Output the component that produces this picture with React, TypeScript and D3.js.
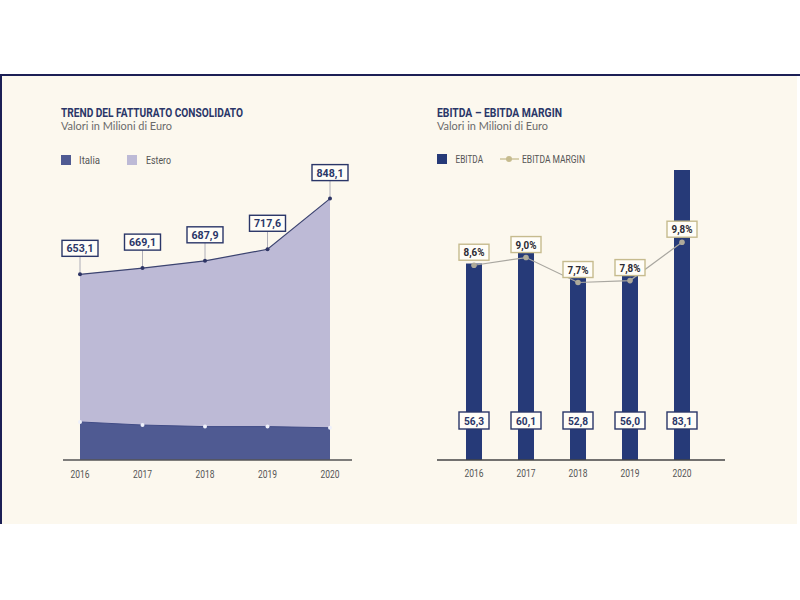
import React from 'react';
import * as d3 from 'd3';

const years = ['2016', '2017', '2018', '2019', '2020'];
const totale = [653.1, 669.1, 687.9, 717.6, 848.1];
const totaleLabels = ['653,1', '669,1', '687,9', '717,6', '848,1'];
const italia = [273, 265, 261, 261, 258];
const ebitda = [56.3, 60.1, 52.8, 56.0, 83.1];
const ebitdaLabels = ['56,3', '60,1', '52,8', '56,0', '83,1'];
const margin = [8.6, 9.0, 7.7, 7.8, 9.8];
const marginLabels = ['8,6%', '9,0%', '7,7%', '7,8%', '9,8%'];

const BG = '#fcf8ee';
const NAVY = '#2a3668';
const BAR = '#263a78';
const ITALIA = '#4f5a92';
const ESTERO = '#bdbad6';
const TAN = '#c6bb8e';
const COND = "'Roboto', 'DejaVu Sans', sans-serif";
const SANS = "'Lato', 'Open Sans', sans-serif";

type TProps = {
  x: number; y: number; w: number; size: number; children: React.ReactNode;
  anchor?: 'start' | 'middle' | 'end'; bold?: boolean; fill?: string; family?: string;
};
function T({ x, y, w, size, children, anchor = 'start', bold = false, fill = '#555', family = COND }: TProps) {
  return (
    <text x={x} y={y} textAnchor={anchor} fontFamily={family} fontWeight={bold ? 'bold' : 'normal'}
      fontSize={size} fill={fill} textLength={w} lengthAdjust="spacingAndGlyphs">
      {children}
    </text>
  );
}

export default function App() {
  const xL = d3.scalePoint<string>().domain(years).range([80, 330]);
  const yL = d3.scaleLinear().domain([175, 848.1]).range([460, 198.6]);
  const base = 460;

  const area = d3.area<number>().x((_, i) => xL(years[i])!).y0(base).y1((d) => yL(d));
  const line = d3.line<number>().x((_, i) => xL(years[i])!).y((d) => yL(d));

  const xR = d3.scalePoint<string>().domain(years).range([474, 682]);
  const yR = d3.scaleLinear().domain([0, 83.1]).range([460, 170]);
  const yM = d3.scaleLinear().domain([7.7, 9.8]).range([282.5, 242.2]);
  const mLine = d3.line<number>().x((_, i) => xR(years[i])!).y((d) => yM(d));
  const barW = 16;

  return (
    <svg width={800} height={600} style={{ position: 'absolute', left: 0, top: 0 }}>
      <rect x={0} y={0} width={800} height={600} fill="#ffffff" />
      <rect x={0} y={75} width={797} height={449} fill={BG} />
      <line x1={0} x2={800} y1={75} y2={75} stroke="#1c1f55" strokeWidth={2} />
      <line x1={1} x2={1} y1={75} y2={524} stroke="#1c1f55" strokeWidth={2} />

      {/* LEFT CHART */}
      <T x={61} y={116.5} w={182} size={13.5} bold fill={NAVY}>TREND DEL FATTURATO CONSOLIDATO</T>
      <T x={61} y={130} w={111} size={10.5} fill="#6b6b6b" family={SANS}>Valori in Milioni di Euro</T>
      <rect x={61} y={155} width={10} height={10} fill={ITALIA} />
      <T x={79} y={163.5} w={21} size={10.5}>Italia</T>
      <rect x={127} y={155} width={10} height={10} fill={ESTERO} />
      <T x={146} y={163.5} w={25} size={10.5}>Estero</T>

      <path d={area(totale)!} fill={ESTERO} />
      <path d={line(totale)!} fill="none" stroke="#3c4470" strokeWidth={1.2} />
      <path d={area(italia)!} fill={ITALIA} />
      <path d={line(italia)!} fill="none" stroke="#414c86" strokeWidth={1} />
      {italia.map((d, i) => (
        <circle key={'it' + i} cx={xL(years[i])!} cy={yL(d)} r={2} fill="#eef0fa" />
      ))}
      {totale.map((d, i) => {
        const cx = xL(years[i])!;
        const cy = yL(d);
        const bw = 36, bh = 16;
        const by = cy - 18 - bh;
        return (
          <g key={'tot' + i}>
            <line x1={cx} x2={cx} y1={by + bh} y2={cy} stroke="#9a9aa8" strokeWidth={0.8} />
            <circle cx={cx} cy={cy} r={2} fill="#2e3565" />
            <rect x={cx - bw / 2} y={by} width={bw} height={bh} fill="#fffdf7" stroke={NAVY} strokeWidth={1.4} />
            <T x={cx} y={by + 12} w={27} size={11} anchor="middle" bold fill={NAVY}>{totaleLabels[i]}</T>
          </g>
        );
      })}
      <line x1={63} x2={352} y1={base} y2={base} stroke="#555" strokeWidth={1.5} />
      {years.map((y) => (
        <T key={'xl' + y} x={xL(y)!} y={477.5} w={19} size={11} anchor="middle">{y}</T>
      ))}

      {/* RIGHT CHART */}
      <T x={437} y={116.5} w={125} size={13.5} bold fill={NAVY}>EBITDA – EBITDA MARGIN</T>
      <T x={437} y={130} w={111} size={10.5} fill="#6b6b6b" family={SANS}>Valori in Milioni di Euro</T>
      <rect x={437} y={154} width={10} height={10} fill={BAR} />
      <T x={455.5} y={163} w={27.5} size={10.5}>EBITDA</T>
      <line x1={500} x2={519} y1={159} y2={159} stroke={TAN} strokeWidth={1.3} />
      <circle cx={509} cy={159} r={3} fill={TAN} />
      <T x={522} y={163} w={63} size={10.5}>EBITDA MARGIN</T>

      {ebitda.map((d, i) => (
        <rect key={'bar' + i} x={xR(years[i])! - barW / 2} y={yR(d)} width={barW} height={460 - yR(d)} fill={BAR} />
      ))}
      {ebitda.map((d, i) => {
        const cx = xR(years[i])!;
        const bw = 30, bh = 17;
        const by = 412;
        return (
          <g key={'bl' + i}>
            <rect x={cx - bw / 2} y={by} width={bw} height={bh} fill="#fffdf7" stroke={NAVY} strokeWidth={1.4} />
            <T x={cx} y={by + 12.5} w={20} size={11} anchor="middle" bold fill={NAVY}>{ebitdaLabels[i]}</T>
          </g>
        );
      })}
      <path d={mLine(margin)!} fill="none" stroke="#a9a7a0" strokeWidth={1.2} />
      {margin.map((d, i) => {
        const cx = xR(years[i])!;
        const cy = yM(d);
        const bw = 30, bh = 16;
        const by = cy - 5 - bh;
        return (
          <g key={'m' + i}>
            <circle cx={cx} cy={cy} r={2.8} fill="#aeaa9a" />
            <rect x={cx - bw / 2} y={by} width={bw} height={bh} fill="#fffdf7" stroke={TAN} strokeWidth={1.4} />
            <T x={cx} y={by + 12} w={21} size={11} anchor="middle" bold fill="#2b2b33">{marginLabels[i]}</T>
          </g>
        );
      })}
      <line x1={437} x2={725} y1={460} y2={460} stroke="#444" strokeWidth={1.5} />
      {years.map((y) => (
        <T key={'xr' + y} x={xR(y)!} y={477} w={19} size={11} anchor="middle">{y}</T>
      ))}
    </svg>
  );
}
